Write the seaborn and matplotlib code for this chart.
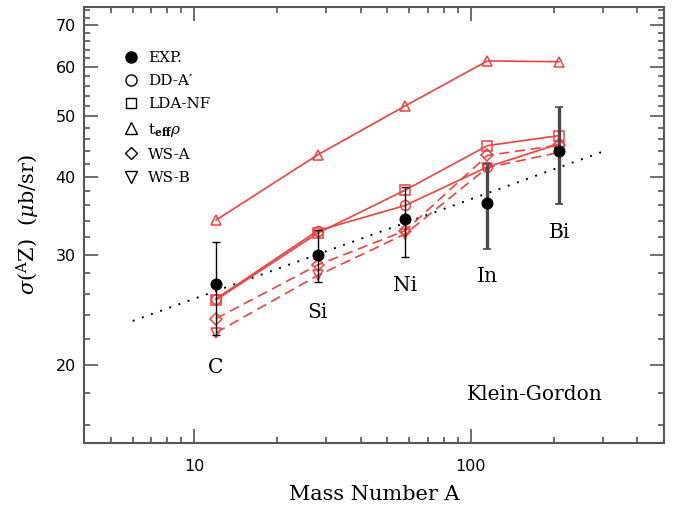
import numpy as np
import pandas as pd
import matplotlib
matplotlib.use("Agg")
import matplotlib.pyplot as plt
from matplotlib.lines import Line2D
from matplotlib.ticker import FixedLocator, NullFormatter, FixedFormatter
import seaborn as sns

# ---------------- data ----------------
nuclei = ["C", "Si", "Ni", "In", "Bi"]
mass = [12, 28, 58, 115, 209]

exp_val = [26.9, 30.0, 34.2, 36.3, 44.0]
exp_err = [4.6, 2.9, 4.4, 5.7, 7.8]

dd_a = [25.5, 32.8, 36.0, 41.5, 45.2]
lda_nf = [25.4, 32.5, 38.1, 44.9, 46.6]
teff_rho = [34.1, 43.4, 52.0, 61.4, 61.2]
ws_a = [23.7, 28.9, 32.8, 43.3, 45.0]
ws_b = [22.5, 27.8, 32.4, 41.4, 43.8]

fit_x = [6, 300]
fit_y = [23.5, 43.9]

label_y = [19.8, 24.2, 26.8, 27.7, 32.6]

y_major = [20, 30, 40, 50, 60, 70]
y_minor = [16, 18, 22, 24, 26, 28, 32, 34, 36, 38, 42, 44, 46, 48,
           52, 54, 56, 58, 62, 64, 66, 68, 72, 74]
x_major = [10, 100]
x_minor = [5, 6, 7, 8, 9, 20, 30, 40, 50, 60, 70, 80, 90, 200, 300, 400]

# ---------------- style ----------------
sns.set_style("ticks")
plt.rcParams["font.family"] = ["DejaVu Serif"]
plt.rcParams["mathtext.fontset"] = "dejavuserif"
plt.rcParams["text.color"] = "black"
plt.rcParams["axes.labelcolor"] = "black"
plt.rcParams["xtick.labelcolor"] = "black"
plt.rcParams["ytick.labelcolor"] = "black"

RED = "#f04040"
FRAME = "#555555"

fig = plt.figure(figsize=(6.83, 5.07), dpi=100)
ax = fig.add_axes([84 / 683, 64.5 / 507, 580 / 683, 435.8 / 507])

df = pd.DataFrame({"A": mass, "exp": exp_val, "err": exp_err, "dd": dd_a,
                   "lda": lda_nf, "teff": teff_rho, "wsa": ws_a, "wsb": ws_b})

# fit line
sns.lineplot(x=fit_x, y=fit_y, color="black", lw=1.4,
             linestyle=(0, (1, 4)), ax=ax, zorder=2)

dash = (0, (6, 3.5))
series = [("teff", "^", "-", 7.5), ("lda", "s", "-", 6.5), ("dd", "o", "-", 7),
          ("wsa", "D", dash, 6), ("wsb", "v", dash, 7.5)]
for col, mk, ls, ms in series:
    sns.lineplot(data=df, x="A", y=col, color=RED, lw=1.2, linestyle=ls,
                 marker=mk, ms=ms, mfc="none", mec=RED, mew=1.1,
                 ax=ax, zorder=3)

# experimental error bars
for i, (a, v, e) in enumerate(zip(mass, exp_val, exp_err)):
    if i < 3:
        ax.errorbar(a, v, yerr=e, fmt="none", ecolor="black", elinewidth=1.0,
                    capsize=3, capthick=1.0, zorder=4)
    else:
        ax.errorbar(a, v, yerr=e, fmt="none", ecolor="#4a4a4a", elinewidth=2.4,
                    capsize=3, capthick=1.2, zorder=4)
sns.scatterplot(data=df, x="A", y="exp", color="black", s=75,
                edgecolor="black", linewidth=0, ax=ax, zorder=5)

# nucleus labels
for a, yv, name in zip(mass, label_y, nuclei):
    ax.text(a, yv, name, ha="center", va="center", fontsize=14.5,
            family="DejaVu Serif", zorder=6)

ax.text(0.778, 0.109, "Klein-Gordon", transform=ax.transAxes, ha="center",
        va="center", fontsize=14.5)

# axes
ax.set_xscale("log")
ax.set_yscale("log")
ax.set_xlim(4, 500)
ax.set_ylim(15, 75)

ax.xaxis.set_major_locator(FixedLocator(x_major))
ax.xaxis.set_major_formatter(FixedFormatter([str(v) for v in x_major]))
ax.xaxis.set_minor_locator(FixedLocator(x_minor))
ax.xaxis.set_minor_formatter(NullFormatter())
ax.yaxis.set_major_locator(FixedLocator(y_major))
ax.yaxis.set_major_formatter(FixedFormatter([str(v) for v in y_major]))
ax.yaxis.set_minor_locator(FixedLocator(y_minor))
ax.yaxis.set_minor_formatter(NullFormatter())

ax.tick_params(which="both", direction="in", top=True, right=True,
               color=FRAME, width=1.2)
ax.tick_params(which="major", length=10)
ax.tick_params(which="minor", length=4)
ax.tick_params(axis="x", which="major", pad=12)
ax.tick_params(axis="y", which="major", pad=6)
for lab in ax.get_xticklabels() + ax.get_yticklabels():
    lab.set_family("DejaVu Sans")
    lab.set_fontsize(11.5)
for sp in ax.spines.values():
    sp.set_color(FRAME)
    sp.set_linewidth(1.5)

ax.set_xlabel("Mass Number A", fontsize=15, labelpad=8)
ax.set_ylabel(r"$\sigma$($^{\rm A}$Z)  ($\mu$b/sr)", fontsize=15, labelpad=10)

# legend
handles = [
    Line2D([], [], ls="none", marker="o", ms=8, mfc="black", mec="black"),
    Line2D([], [], ls="none", marker="o", ms=8, mfc="none", mec="black"),
    Line2D([], [], ls="none", marker="s", ms=7, mfc="none", mec="black"),
    Line2D([], [], ls="none", marker="^", ms=9, mfc="none", mec="black"),
    Line2D([], [], ls="none", marker="D", ms=6.5, mfc="none", mec="black"),
    Line2D([], [], ls="none", marker="v", ms=9, mfc="none", mec="black"),
]
labels = ["EXP.", "DD-A\u2032", "LDA-NF", r"t$_{\mathbf{eff}}\rho$", "WS-A", "WS-B"]
ax.legend(handles, labels, loc="upper left", bbox_to_anchor=(0.058, 0.912),
          frameon=False, fontsize=11, handlelength=1.0, handletextpad=0.6,
          labelspacing=0.6, borderaxespad=0)

fig.savefig("out.png", dpi=100)
